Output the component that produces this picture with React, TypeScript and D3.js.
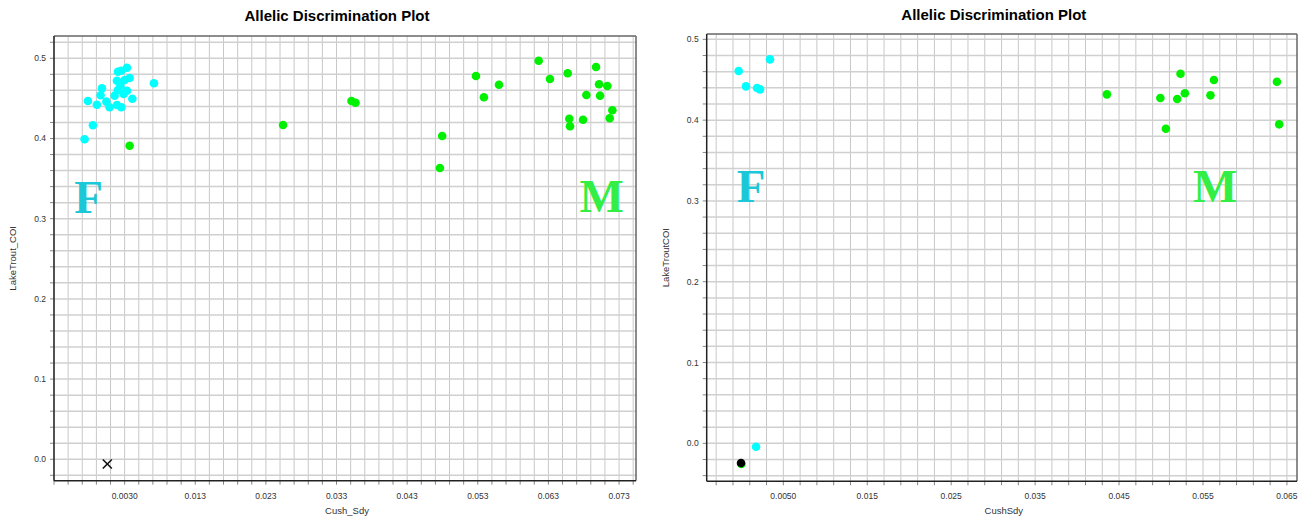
import React from 'react';
import * as d3 from 'd3';

// --- data ---
const title = 'Allelic Discrimination Plot';

// left plot (Cush_Sdy vs LakeTrout_COI)
const leftFemale: [number, number][] = [
  [-0.00267, 0.399], [-0.0022, 0.4468], [-0.00149, 0.4165], [-0.00093, 0.442],
  [-0.0004, 0.454], [-0.00021, 0.4626], [0.00041, 0.446], [0.00087, 0.439],
  [0.00158, 0.4534], [0.00191, 0.4418], [0.00205, 0.4605], [0.00191, 0.472],
  [0.00205, 0.4833], [0.00253, 0.439], [0.00239, 0.4655], [0.00253, 0.4845],
  [0.00286, 0.4555], [0.003, 0.473], [0.00333, 0.4596], [0.00333, 0.4883],
  [0.00371, 0.4754], [0.00409, 0.4496], [0.00715, 0.4688],
];
const leftMale: [number, number][] = [
  [0.00371, 0.391], [0.02543, 0.4168], [0.03512, 0.4468], [0.03569, 0.4446],
  [0.04796, 0.4031], [0.04764, 0.3632], [0.05274, 0.478], [0.05387, 0.4514],
  [0.056, 0.467], [0.06162, 0.497], [0.06322, 0.4742], [0.06573, 0.4813],
  [0.06596, 0.4247], [0.06606, 0.4152], [0.0679, 0.4234], [0.06837, 0.4542],
  [0.06974, 0.4891], [0.07017, 0.4676], [0.07031, 0.4534], [0.07134, 0.4655],
  [0.07205, 0.4352], [0.07168, 0.4252],
];
const leftUndetermined: [number, number][] = [[0.00055, -0.0059]];
const leftXTicks = [0.003, 0.013, 0.023, 0.033, 0.043, 0.053, 0.063, 0.073];
const leftXTickLabels = ['0.0030', '0.013', '0.023', '0.033', '0.043', '0.053', '0.063', '0.073'];

// right plot (CushSdy vs LakeTroutCOI)
const rightFemale: [number, number][] = [
  [-0.00032, 0.4608], [0.00055, 0.4418], [0.00187, 0.4397], [0.00222, 0.4381],
  [0.00341, 0.4752], [0.00175, -0.0042],
];
const rightMale: [number, number][] = [
  [0.0, -0.0256], [0.04355, 0.4319], [0.04992, 0.4273], [0.05058, 0.3894],
  [0.05193, 0.4261], [0.05232, 0.4574], [0.05284, 0.4332], [0.05589, 0.4307],
  [0.0563, 0.4496], [0.06381, 0.4475], [0.06408, 0.3948],
];
const rightNtc: [number, number][] = [[-0.00004, -0.0244]];
const rightXTicks = [0.005, 0.015, 0.025, 0.035, 0.045, 0.055, 0.065];
const rightXTickLabels = ['0.0050', '0.015', '0.025', '0.035', '0.045', '0.055', '0.065'];

const yTicks = [0, 0.1, 0.2, 0.3, 0.4, 0.5];
const yTickLabels = ['0.0', '0.1', '0.2', '0.3', '0.4', '0.5'];

const FEMALE = '#00ffff';
const MALE = '#00f000';
const FONT = 'Liberation Sans, Arial, sans-serif';

type Letter = { text: string; x: number; y: number; color: string };

type PlotProps = {
  box: { left: number; top: number; right: number; bottom: number };
  xDomain: [number, number];
  yDomain: [number, number];
  gridStart: number;
  xTicks: number[];
  xTickLabels: string[];
  female: [number, number][];
  male: [number, number][];
  ntc?: [number, number][];
  undetermined?: [number, number][];
  xLabel: string;
  yLabel: string;
  titleY: number;
  letters: Letter[];
};

function Plot(p: PlotProps) {
  const { box } = p;
  const x = d3.scaleLinear().domain(p.xDomain).range([box.left, box.right]);
  const y = d3.scaleLinear().domain(p.yDomain).range([box.bottom, box.top]);
  const xGrid = d3.range(p.gridStart, p.xDomain[1] + 1e-9, 0.002);
  const yGrid = d3.range(Math.ceil(p.yDomain[0] / 0.02) * 0.02, p.yDomain[1], 0.02);
  const cx = (box.left + box.right) / 2;
  return (
    <g>
      <text x={cx - 8} y={p.titleY} textAnchor="middle" fontFamily={FONT} fontWeight="bold" fontSize={15}>
        {title}
      </text>
      {xGrid.map((v, i) => (
        <line key={'gx' + i} x1={x(v)} x2={x(v)} y1={box.top} y2={box.bottom} stroke="#c8c8c8" strokeWidth={1} />
      ))}
      {yGrid.map((v, i) => (
        <line key={'gy' + i} x1={box.left} x2={box.right} y1={y(v)} y2={y(v)} stroke="#d0d0d0" strokeWidth={1.5} />
      ))}
      {xGrid.map((v, i) => (
        <line key={'tx' + i} x1={x(v)} x2={x(v)} y1={box.bottom} y2={box.bottom + 4} stroke="#888" />
      ))}
      {yGrid.map((v, i) => (
        <line key={'ty' + i} x1={box.left - 4} x2={box.left} y1={y(v)} y2={y(v)} stroke="#888" />
      ))}
      <line x1={box.left} x2={box.right} y1={box.top} y2={box.top} stroke="#666" strokeWidth={1.5} />
      <line x1={box.right} x2={box.right} y1={box.top} y2={box.bottom} stroke="#666" strokeWidth={1.5} />
      <line x1={box.left} x2={box.left} y1={box.top} y2={box.bottom} stroke="#222" strokeWidth={1.5} />
      <line x1={box.left} x2={box.right} y1={box.bottom} y2={box.bottom} stroke="#222" strokeWidth={1.5} />
      {p.xTicks.map((v, i) => (
        <text key={'xl' + i} x={x(v)} y={box.bottom + 18} textAnchor="middle" fontFamily={FONT} fontSize={8.5} fill="#333">
          {p.xTickLabels[i]}
        </text>
      ))}
      {yTicks.map((v, i) => (
        <text key={'yl' + i} x={box.left - 8} y={y(v) + 3} textAnchor="end" fontFamily={FONT} fontSize={8.5} fill="#333">
          {yTickLabels[i]}
        </text>
      ))}
      <text x={cx + 2} y={box.bottom + 33} textAnchor="middle" fontFamily={FONT} fontSize={9.5} fill="#333">
        {p.xLabel}
      </text>
      <text
        transform={`translate(${box.left - 38},${(box.top + box.bottom) / 2}) rotate(-90)`}
        textAnchor="middle"
        fontFamily={FONT}
        fontSize={9.5}
        fill="#333"
      >
        {p.yLabel}
      </text>
      {p.letters.map((l, i) => (
        <text
          key={'L' + i}
          x={x(l.x)}
          y={y(l.y)}
          textAnchor="middle"
          fontFamily="Liberation Serif, Times New Roman, serif"
          fontWeight="bold"
          fontSize={47}
          fill={l.color}
        >
          {l.text}
        </text>
      ))}
      {p.male.map((d, i) => (
        <circle key={'m' + i} cx={x(d[0])} cy={y(d[1])} r={4.3} fill={MALE} />
      ))}
      {p.female.map((d, i) => (
        <circle key={'f' + i} cx={x(d[0])} cy={y(d[1])} r={4.3} fill={FEMALE} />
      ))}
      {(p.ntc || []).map((d, i) => (
        <circle key={'n' + i} cx={x(d[0])} cy={y(d[1])} r={4.3} fill="#000" />
      ))}
      {(p.undetermined || []).map((d, i) => {
        const px = x(d[0]);
        const py = y(d[1]);
        return (
          <g key={'u' + i} stroke="#111" strokeWidth={1.6}>
            <line x1={px - 4.5} x2={px + 4.5} y1={py - 4.5} y2={py + 4.5} />
            <line x1={px - 4.5} x2={px + 4.5} y1={py + 4.5} y2={py - 4.5} />
          </g>
        );
      })}
    </g>
  );
}

export default function App() {
  return (
    <svg width={1303} height={521} style={{ position: 'absolute', left: 0, top: 0, background: '#fff' }}>
      <rect width={1303} height={521} fill="#fff" />
      <Plot
        box={{ left: 54, top: 36, right: 636, bottom: 480.7 }}
        xDomain={[-0.007, 0.0754]}
        yDomain={[-0.0267, 0.5278]}
        gridStart={-0.007}
        xTicks={leftXTicks}
        xTickLabels={leftXTickLabels}
        female={leftFemale}
        male={leftMale}
        undetermined={leftUndetermined}
        xLabel="Cush_Sdy"
        yLabel="LakeTrout_COI"
        titleY={21}
        letters={[
          { text: 'F', x: -0.0021, y: 0.307, color: '#1cc8d8' },
          { text: 'M', x: 0.07055, y: 0.3087, color: '#33ee44' },
        ]}
      />
      <Plot
        box={{ left: 706.7, top: 34, right: 1297, bottom: 481.3 }}
        xDomain={[-0.00413, 0.0662]}
        yDomain={[-0.047, 0.5066]}
        gridStart={-0.003}
        xTicks={rightXTicks}
        xTickLabels={rightXTickLabels}
        female={rightFemale}
        male={rightMale}
        ntc={rightNtc}
        xLabel="CushSdy"
        yLabel="LakeTroutCOI"
        titleY={20}
        letters={[
          { text: 'F', x: 0.00115, y: 0.299, color: '#1cc8d8' },
          { text: 'M', x: 0.05645, y: 0.299, color: '#33ee44' },
        ]}
      />
    </svg>
  );
}
